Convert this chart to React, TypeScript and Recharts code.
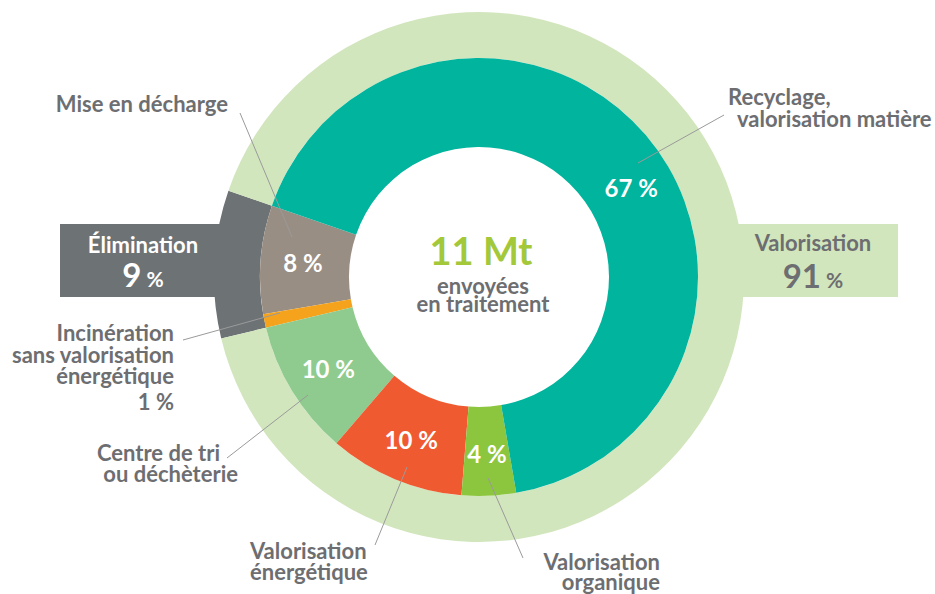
import { PieChart, Pie, Cell } from "recharts";

// Déchets envoyés en traitement (11 Mt) — répartition par filière
const innerNames = [
  "Mise en décharge",
  "Incinération sans valorisation énergétique",
  "Centre de tri ou déchèterie",
  "Valorisation énergétique",
  "Valorisation organique",
  "Recyclage, valorisation matière",
];
const innerValues = [8, 1, 10, 10, 4, 67];
const innerColors = ["#998e84", "#f5a31c", "#8fcb8e", "#f05a30", "#8cc63f", "#00b49d"];

const outerNames = ["Élimination", "Valorisation"];
const outerValues = [9, 91];
const outerColors = ["#6d7275", "#d2e6bd"];

const innerData = innerNames.map((name, i) => ({ name, value: innerValues[i] }));
const outerData = outerNames.map((name, i) => ({ name, value: outerValues[i] }));

const W = 935;
const H = 594;
const CX = 479;
const CY = 277;
const START = 161;
const FONT = "Lato, 'Noto Sans', sans-serif";
const GRAY = "#6d6e71";
const LINE = "#9a9a9a";
const RAD = Math.PI / 180;

const renderInnerLabel = (p: any) => {
  const { cx, cy, midAngle, innerRadius, outerRadius, value, index } = p;
  if (value < 2) return null;
  // the big slice label sits a bit lower than its middle
  const a = index === 5 ? midAngle - 10 : midAngle;
  const r = (innerRadius + outerRadius) / 2 + 2;
  const x = cx + r * Math.cos(-a * RAD);
  const y = cy + r * Math.sin(-a * RAD);
  return (
    <text x={x} y={y} fill="#fff" textAnchor="middle" dominantBaseline="central"
      fontSize={24} fontWeight={700} fontFamily={FONT}>
      {value} %
    </text>
  );
};

function Overlay() {
  const t = { fontFamily: FONT, fontWeight: 700, fontSize: 22, fill: GRAY } as const;
  return (
    <svg width={W} height={H} style={{ position: "absolute", left: 0, top: 0, pointerEvents: "none" }}>
      {/* side boxes */}
      <rect x={60} y={224} width={190} height={73} fill={outerColors[0]} />
      <rect x={705} y={224} width={193} height={73} fill={outerColors[1]} />

      {/* leader lines */}
      <g stroke={LINE} strokeWidth={1}>
        <line x1={240} y1={113} x2={292} y2={237} />
        <line x1={638} y1={163} x2={724} y2={115} />
        <line x1={183} y1={340} x2={280} y2={313} />
        <line x1={227} y1={458} x2={308} y2={395} />
        <line x1={375} y1={545} x2={407} y2={467} />
        <line x1={488} y1={478} x2={523} y2={558} />
      </g>

      {/* centre */}
      <text x={481} y={265} textAnchor="middle" fontFamily={FONT} fontWeight={700} fontSize={38} fill="#a3c83a">11 Mt</text>
      <text x={483} y={294} textAnchor="middle" {...t}>envoyées</text>
      <text x={483} y={312} textAnchor="middle" {...t}>en traitement</text>

      {/* boxes text */}
      <text x={143} y={253} textAnchor="middle" {...t} fill="#fff">{outerNames[0]}</text>
      <text x={143} y={287} textAnchor="middle" {...t} fill="#fff">
        <tspan fontSize={33}>{outerValues[0]}</tspan>
        <tspan fontSize={21}> %</tspan>
      </text>
      <text x={813} y={251} textAnchor="middle" {...t}>{outerNames[1]}</text>
      <text x={813} y={288} textAnchor="middle" {...t}>
        <tspan fontSize={33}>{outerValues[1]}</tspan>
        <tspan fontSize={21}> %</tspan>
      </text>

      {/* outside labels */}
      <text x={228} y={112} textAnchor="end" {...t}>Mise en décharge</text>
      <text x={728} y={105} {...t}>Recyclage,</text>
      <text x={737} y={127} {...t}>valorisation matière</text>
      <text x={174} y={341} textAnchor="end" {...t}>Incinération</text>
      <text x={174} y={363} textAnchor="end" {...t}>sans valorisation</text>
      <text x={174} y={384} textAnchor="end" {...t}>énergétique</text>
      <text x={174} y={410} textAnchor="end" {...t}>{innerValues[1]} %</text>
      <text x={220} y={461} textAnchor="end" {...t}>Centre de tri</text>
      <text x={238} y={482} textAnchor="end" {...t}>ou déchèterie</text>
      <text x={250} y={559} {...t}>Valorisation</text>
      <text x={250} y={580} {...t}>énergétique</text>
      <text x={660} y={570} textAnchor="end" {...t}>Valorisation</text>
      <text x={660} y={590} textAnchor="end" {...t}>organique</text>
    </svg>
  );
}

export default function App() {
  return (
    <div style={{ position: "absolute", left: 0, top: 0, width: W, height: H, background: "#fff" }}>
      <PieChart width={W} height={H} margin={{ top: 0, right: 0, bottom: 0, left: 0 }}>
        <Pie data={outerData} dataKey="value" cx={CX} cy={CY} innerRadius={219} outerRadius={265}
          startAngle={START} endAngle={START + 360} stroke="none" isAnimationActive={false}>
          {outerData.map((d, i) => <Cell key={d.name} fill={outerColors[i]} />)}
        </Pie>
        <Pie data={innerData} dataKey="value" cx={CX} cy={CY} innerRadius={130} outerRadius={219}
          startAngle={START} endAngle={START + 360} stroke="none" label={renderInnerLabel}
          labelLine={false} isAnimationActive={false}>
          {innerData.map((d, i) => <Cell key={d.name} fill={innerColors[i]} />)}
        </Pie>
      </PieChart>
      <Overlay />
    </div>
  );
}
